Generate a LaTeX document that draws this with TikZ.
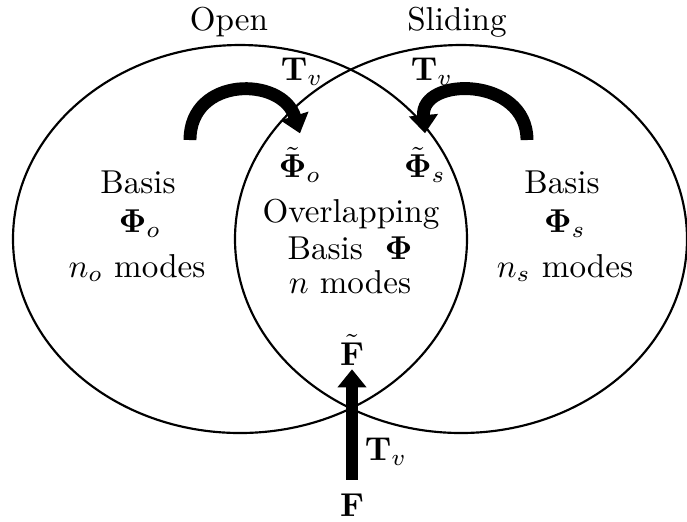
\documentclass[tikz,border=0pt]{standalone}
\usepackage{amsmath}
\usepackage{bm}
\usetikzlibrary{arrows.meta,positioning}

\tikzset{
  setline/.style={line width=0.65pt},
  thickarrow/.style={line width=3.9pt,-{Triangle[width=8.5pt,length=5.5pt]}},
  lbl/.style={inner sep=1pt}
}

\begin{document}
\begin{tikzpicture}[x=0.302pt,y=-0.302pt]
    \useasboundingbox (0,0) rectangle (687,521);

    % The two sets
    \draw[setline] (240,239) ellipse [x radius=227, y radius=194];
    \draw[setline] (461,239) ellipse [x radius=226, y radius=194];

    % Titles
    \node[lbl] (open) at (229,22) {Open};
    \node[lbl] (slid) at (457,22) {Sliding};

    % Left set
    \node[lbl] (basO) at (138,182) {Basis};
    \node[lbl] (phiO) at (140,224) {$\bm{\Phi}_o$};
    \node[lbl] (modO) at (137,268) {$n_o$ modes};

    % Right set
    \node[lbl] (basS) at (562,182) {Basis};
    \node[lbl] (phiS) at (565,224) {$\bm{\Phi}_s$};
    \node[lbl] (modS) at (565,268) {$n_s$ modes};

    % Overlap
    \node[lbl] (ptO) at (300,165) {$\tilde{\bm{\Phi}}_o$};
    \node[lbl] (ptS) at (425,165) {$\tilde{\bm{\Phi}}_s$};
    \node[lbl] (ovl) at (351,214) {Overlapping};
    \node[lbl] (basP) at (350,248) {Basis \ $\bm{\Phi}$};
    \node[lbl] (modP) at (350,282) {$n$ modes};

    % Transformations
    \node[lbl] (tvO) at (302,72) {$\mathbf{T}_v$};
    \node[lbl] (tvS) at (432,72) {$\mathbf{T}_v$};
    \coordinate (tailO) at (190,140);
    \coordinate (tailS) at (527,140);
    \draw[thickarrow] (tailO) .. controls (190,76) and (282,76) .. ([yshift=3pt]ptO.north);
    \draw[thickarrow] (tailS) .. controls (527,76) and (420,76) .. ([yshift=3pt]ptS.north);

    % Force
    \node[lbl] (Ft) at (352,350) {$\tilde{\mathbf{F}}$};
    \node[lbl] (F) at (352,505) {$\mathbf{F}$};
    \node[lbl] (tvF) at (386,452) {$\mathbf{T}_v$};
    \draw[thickarrow] ([yshift=3pt]F.north) -- (Ft.south);
\end{tikzpicture}
\end{document}
